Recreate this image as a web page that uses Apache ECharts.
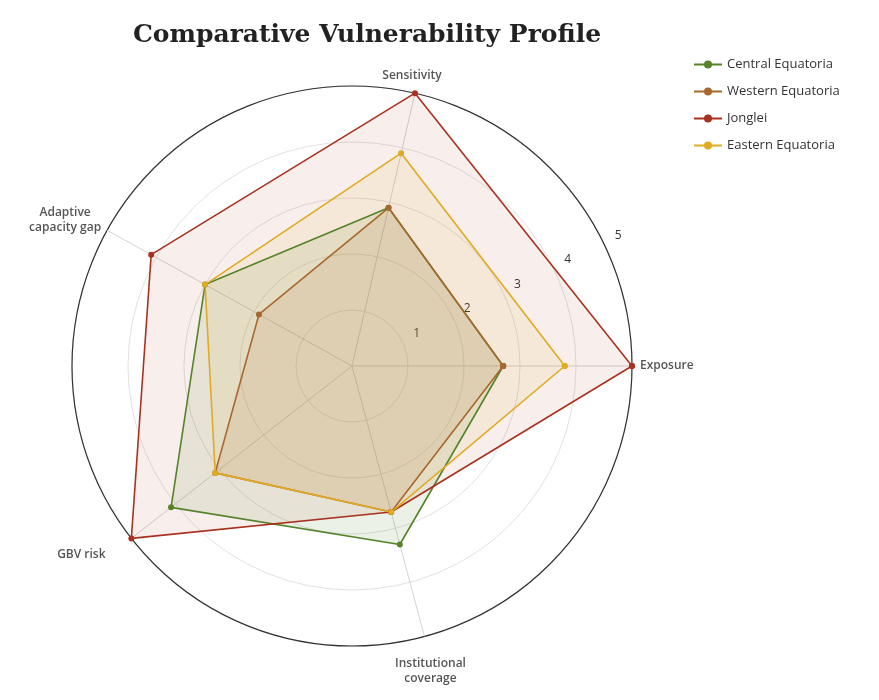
<!DOCTYPE html>
<html>
<head>
<meta charset="utf-8">
<script src="https://cdn.jsdelivr.net/npm/echarts@6/dist/echarts.min.js"></script>
<style>
  html, body { margin: 0; padding: 0; background: #ffffff; }
  #chart { width: 879px; height: 700px; }
</style>
</head>
<body>
<div id="chart"></div>
<script>
// ---- data ----
const regions = ['Central Equatoria', 'Western Equatoria', 'Jonglei', 'Eastern Equatoria'];
const dimensions = ['Exposure', 'Sensitivity', 'Adaptive capacity gap', 'GBV risk', 'Institutional coverage'];
const dimensionLabels = ['Exposure', 'Sensitivity', 'Adaptive\ncapacity gap', 'GBV risk', 'Institutional\ncoverage'];
const centralEquatoria = [2.7, 2.9, 3.0, 4.1, 3.3];
const westernEquatoria = [2.7, 2.9, 1.9, 3.1, 2.7];
const jonglei          = [5.0, 5.0, 4.1, 5.0, 2.7];
const easternEquatoria = [3.8, 3.9, 3.0, 3.1, 2.7];
const radiusTicks = [0, 1, 2, 3, 4, 5];

// ---- layout ----
const spokeAngles = [0, 77, 151, 218, 285];   // direction of each dimension axis (deg, counter-clockwise from east)
const radialAxisAngle = 26;                    // direction along which the 1..5 scale is printed
const toAngle = a => (a - radialAxisAngle + 360) % 360;
const rMax = radiusTicks[radiusTicks.length - 1];

const palette = {
  'Central Equatoria': '#55832a',
  'Western Equatoria': '#a8672c',
  'Jonglei': '#a8321f',
  'Eastern Equatoria': '#e0aa22'
};
const fillAlpha = {
  'Central Equatoria': 0.16,
  'Western Equatoria': 0.16,
  'Jonglei': 0.11,
  'Eastern Equatoria': 0.14
};
const valuesByRegion = {
  'Central Equatoria': centralEquatoria,
  'Western Equatoria': westernEquatoria,
  'Jonglei': jonglei,
  'Eastern Equatoria': easternEquatoria
};

function hexToRgba(hex, a) {
  const n = parseInt(hex.slice(1), 16);
  return `rgba(${(n >> 16) & 255},${(n >> 8) & 255},${n & 255},${a})`;
}

const spokeSeries = spokeAngles.map((a, i) => ({
  name: 'spoke-' + i,
  type: 'line',
  coordinateSystem: 'polar',
  silent: true,
  symbol: 'none',
  z: 1,
  lineStyle: { color: '#d4d4d4', width: 1 },
  data: [[0, toAngle(a)], [rMax, toAngle(a)]]
}));

const regionSeries = regions.map(name => {
  const vals = valuesByRegion[name];
  const pts = vals.map((v, i) => [v, toAngle(spokeAngles[i])]);
  pts.push(pts[0]);
  return {
    name: name,
    type: 'line',
    coordinateSystem: 'polar',
    z: 3,
    symbol: 'circle',
    symbolSize: 6,
    itemStyle: { color: palette[name] },
    lineStyle: { color: palette[name], width: 1.6 },
    areaStyle: { color: hexToRgba(palette[name], fillAlpha[name]) },
    data: pts
  };
});

const labelPlacement = [
  { position: 'right', distance: 8, offset: [0, 0] },
  { position: 'top', distance: 10, offset: [-3, 0] },
  { position: 'left', distance: 42, offset: [0, -10] },
  { position: 'left', distance: 50, offset: [0, 16] },
  { position: 'bottom', distance: 20, offset: [6, 0] }
];

const dimensionLabelSeries = {
  name: 'dimension-labels',
  type: 'scatter',
  coordinateSystem: 'polar',
  silent: true,
  symbolSize: 0,
  z: 5,
  data: dimensions.map((d, i) => ({
    name: d,
    value: [rMax, toAngle(spokeAngles[i])],
    label: {
      show: true,
      formatter: dimensionLabels[i],
      position: labelPlacement[i].position,
      distance: labelPlacement[i].distance,
      offset: labelPlacement[i].offset,
      align: i === 0 ? 'left' : 'center',
      color: '#2b2b2b',
      fontFamily: 'Open Sans',
      fontWeight: 600,
      fontSize: 12,
      lineHeight: 15
    }
  }))
};

const chart = echarts.init(document.getElementById('chart'), null, { renderer: 'canvas' });
chart.setOption({
  backgroundColor: '#ffffff',
  animation: false,
  title: {
    text: 'Comparative Vulnerability Profile',
    left: 362,
    textAlign: 'center',
    top: 18,
    textStyle: { fontFamily: 'DejaVu Serif', fontWeight: 'bold', fontSize: 25, color: '#222222' }
  },
  legend: {
    data: regions,
    orient: 'vertical',
    left: 688,
    top: 53,
    itemWidth: 28,
    itemHeight: 10,
    itemGap: 14,
    textStyle: { fontFamily: 'Open Sans', fontSize: 13, color: '#333333' }
  },
  polar: { center: [352, 366], radius: 280 },
  angleAxis: {
    type: 'value',
    min: 0,
    max: 360,
    interval: 90,
    startAngle: radialAxisAngle,
    clockwise: false,
    axisLine: { show: true, lineStyle: { color: '#333333', width: 1.2 } },
    axisTick: { show: false },
    axisLabel: { show: false },
    splitLine: { show: false }
  },
  radiusAxis: {
    type: 'value',
    min: radiusTicks[0],
    max: rMax,
    interval: 1,
    axisLine: { show: false },
    axisTick: { show: false },
    axisLabel: {
      showMinLabel: false,
      margin: 0,
      align: 'left',
      formatter: v => '{t|' + v + '}',
      rich: {
        t: {
          color: '#333333',
          fontFamily: 'Open Sans',
          fontSize: 12,
          padding: [0, 0, 16, 11]
        }
      }
    },
    splitLine: { show: true, lineStyle: { color: '#e2e2e2', width: 1 } }
  },
  series: [...spokeSeries, ...regionSeries, dimensionLabelSeries]
});
</script>
</body>
</html>
